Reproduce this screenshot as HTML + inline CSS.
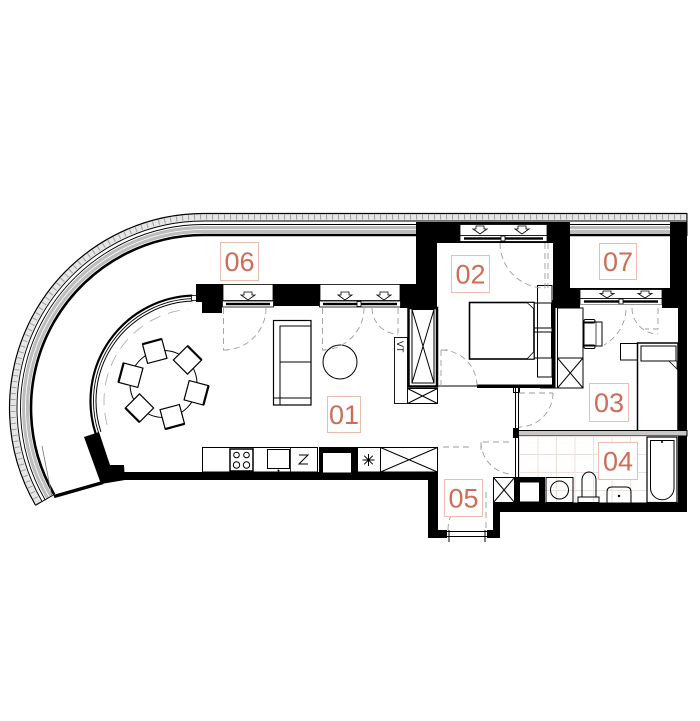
<!DOCTYPE html>
<html><head><meta charset="utf-8"><style>
html,body{margin:0;padding:0;background:#fff;}
svg{display:block}
.lbl{font-family:"Liberation Sans",sans-serif;font-size:27px;fill:#cf6c56;text-anchor:middle}
.box{fill:#fff;stroke:#ecbcae;stroke-width:1}
.d{fill:none;stroke:#9c9c9c;stroke-width:0.9;stroke-dasharray:6 4}
.t{fill:none;stroke:#000;stroke-width:1}
</style></head><body>
<svg width="700" height="721" viewBox="0 0 700 721" xmlns="http://www.w3.org/2000/svg">
<defs>
<pattern id="tile" x="519" y="436" width="18.5" height="18" patternUnits="userSpaceOnUse">
<path d="M0 0.5 H18.5 M0.5 0 V18" stroke="#ecdfdc" stroke-width="1" fill="none"/>
</pattern>
</defs>
<rect width="700" height="721" fill="#fff"/>

<!-- balcony rail -->
<g fill="none">
<path d="M38.59 503.5 A191 191 0 0 1 204 217 H687" stroke="#e6e6e6" stroke-width="7"/>
<path d="M38.59 503.5 A191 191 0 0 1 204 217 H687" stroke="#a0a0a0" stroke-width="5" stroke-dasharray="1 5"/>
<path d="M35.56 505.25 A194.5 194.5 0 0 1 204 213.5 H687" stroke="#000" stroke-width="1.2"/>
<path d="M42.06 501.5 A187 187 0 0 1 204 221 H687" stroke="#000" stroke-width="0.9"/>
<path d="M45.09 499.75 A183.5 183.5 0 0 1 204 224.5 H687" stroke="#000" stroke-width="0.9"/>
<path d="M49.42 497.25 A178.5 178.5 0 0 1 204 229.5 H687" stroke="#bdbdbd" stroke-width="7"/>
<path d="M49.42 497.25 A178.5 178.5 0 0 1 204 229.5 H687" stroke="#fff" stroke-width="0.8"/>
<path d="M54.18 494.5 A173 173 0 0 1 204 235 H687" stroke="#000" stroke-width="2.6"/>
<line x1="35.5" y1="505.3" x2="54.2" y2="494.5" stroke="#000" stroke-width="1"/>
<line x1="687" y1="213" x2="687" y2="236" stroke="#000" stroke-width="1"/>
<line x1="42" y1="446" x2="52" y2="497" stroke="#777" stroke-width="0.8"/>
</g>
<line x1="54" y1="496.5" x2="103" y2="482.5" stroke="#000" stroke-width="3.5"/>

<!-- curved glass wall -->
<path d="M95.66 433.6 A105.5 105.5 0 0 1 192.32 295.56" stroke="#000" stroke-width="2.2" fill="none"/>
<path d="M98.51 432.67 A102.5 102.5 0 0 1 192.42 298.56" stroke="#000" stroke-width="0.9" fill="none"/>
<path d="M100.89 431.9 A100 100 0 0 1 192.51 301.06" stroke="#000" stroke-width="1" fill="none"/>
<path d="M107.14 424.81 A92 92 0 0 1 187.98 309.35" stroke="#b0b0b0" stroke-width="0.9" stroke-dasharray="12 8" fill="none"/>
<rect x="191.5" y="295.5" width="5" height="5" fill="#fff" stroke="#000" stroke-width="0.8"/>

<!-- left slanted pillar -->
<polygon points="84,437 99,432 110,465 124,465 125,480 101,484" fill="#000"/>

<!-- walls (black) -->
<g fill="#000">
<rect x="196" y="284" width="27" height="18"/>
<rect x="202" y="302" width="20" height="11"/>
<rect x="273" y="284" width="47" height="22"/>
<rect x="400" y="284" width="37" height="24"/>
<rect x="416" y="222" width="21" height="86"/>
<rect x="416" y="222" width="154" height="21"/>
<rect x="553" y="222" width="17" height="86"/>
<rect x="553" y="288" width="134" height="20"/>
<rect x="670" y="222" width="17" height="86"/>
<rect x="678" y="308" width="9" height="204"/>
<rect x="122" y="472" width="316" height="8"/>
<rect x="428" y="472" width="10" height="66"/>
<rect x="428" y="530" width="19" height="8"/>
<rect x="487" y="530" width="13" height="8"/>
<rect x="493" y="502" width="7" height="36"/>
<rect x="493" y="502.5" width="194" height="9.5"/>
<rect x="552" y="300" width="3.5" height="88"/>
<rect x="477" y="384.5" width="78" height="3.5"/>
</g>

<!-- windows -->
<g stroke="#000" stroke-width="0.8">
<!-- window 1 -->
<rect x="223" y="284.5" width="50" height="16" fill="#fff"/>
<rect x="222.5" y="301" width="51" height="6" fill="#fff"/>
<rect x="226" y="302.8" width="44" height="2.4" fill="#000" stroke="none"/>
<polygon points="244,292 252,292 252,295 255,295 248,300 241,295 244,295" fill="#fff"/>
<!-- window 2 -->
<rect x="320" y="284.5" width="80" height="16" fill="#fff"/>
<rect x="319.5" y="301" width="81" height="6" fill="#fff"/>
<rect x="323" y="302.8" width="74" height="2.4" fill="#000" stroke="none"/>
<rect x="357" y="301.5" width="4" height="5" fill="#fff"/>
<polygon points="341,292 349,292 349,295 352,295 345,300 338,295 341,295" fill="#fff"/>
<polygon points="380,292 388,292 388,295 391,295 384,300 377,295 380,295" fill="#fff"/>
<!-- window 02 -->
<rect x="460" y="224.5" width="87" height="11" fill="#fff"/>
<rect x="460" y="235.5" width="87" height="6" fill="#fff"/>
<rect x="464" y="237.3" width="79" height="2.4" fill="#000" stroke="none"/>
<rect x="501" y="236" width="4" height="5" fill="#fff"/>
<polygon points="476,226 484,226 484,229 487,229 480,234 473,229 476,229" fill="#fff"/>
<polygon points="518,226 526,226 526,229 529,229 522,234 515,229 518,229" fill="#fff"/>
<!-- window 07 -->
<rect x="580" y="289.5" width="82" height="9" fill="#fff"/>
<rect x="580" y="298.5" width="82" height="6" fill="#fff"/>
<rect x="584" y="300.3" width="74" height="2.4" fill="#000" stroke="none"/>
<rect x="619" y="299" width="4" height="5" fill="#fff"/>
<polygon points="603,291 611,291 611,293.5 614,293.5 607,298 600,293.5 603,293.5" fill="#fff"/>
<polygon points="641,291 649,291 649,293.5 652,293.5 645,298 638,293.5 641,293.5" fill="#fff"/>
</g>
<rect x="580" y="304.5" width="82" height="3.5" fill="#fff"/>

<!-- room 02 wardrobe & boxes -->
<rect x="408.5" y="308" width="28.5" height="78.5" fill="#fff" stroke="#000" stroke-width="2.5"/>
<rect x="412" y="309.5" width="22" height="73.5" class="t" stroke-width="0.8"/>
<path d="M412 309.5 L434 383 M434 309.5 L412 383" class="t" stroke-width="0.7"/>
<rect x="407.5" y="388.5" width="30" height="15" class="t" fill="#fff"/>
<path d="M407.5 388.5 L437.5 403.5 M437.5 388.5 L407.5 403.5" class="t" stroke-width="0.7"/>
<rect x="394.5" y="337.5" width="13" height="66" fill="#fff" stroke="#000" stroke-width="0.9"/>
<text x="397" y="341" font-family="Liberation Sans, sans-serif" font-size="9" transform="rotate(90 397 341)">VT</text>
<line x1="437" y1="386" x2="477" y2="386" stroke="#000" stroke-width="1"/>

<!-- bed 02 -->
<rect x="537.5" y="285.5" width="14.5" height="91.5" class="t" fill="#fff" stroke-width="0.8"/>
<rect x="469.5" y="302.5" width="64.5" height="56.5" fill="#fff" stroke="#000" stroke-width="1.6"/>
<rect x="534" y="303" width="17.5" height="25" class="t" fill="#fff" stroke-width="0.8"/>
<rect x="534" y="332" width="17.5" height="26" class="t" fill="#fff" stroke-width="0.8"/>
<polygon points="527,302.5 534,302.5 534,309" fill="#fff" stroke="#000" stroke-width="0.8"/>
<polygon points="527,359 534,359 534,351.5" fill="#fff" stroke="#000" stroke-width="0.8"/>

<!-- room 03 -->
<rect x="557.5" y="308" width="25.5" height="80" class="t" fill="#fff" stroke-width="0.9"/>
<line x1="557.5" y1="358" x2="583" y2="358" stroke="#000" stroke-width="0.9"/>
<path d="M557.5 358 L583 388 M583 358 L557.5 388" class="t" stroke-width="0.7"/>
<line x1="540" y1="388" x2="583" y2="388" stroke="#000" stroke-width="1"/>
<rect x="584" y="322" width="18" height="24" class="t" fill="#fff" stroke-width="0.9"/>
<line x1="596" y1="322" x2="596" y2="346" stroke="#000" stroke-width="0.7"/>
<rect x="584" y="319.5" width="11" height="3.5" rx="1.5" class="t" fill="#fff" stroke-width="0.8"/>
<rect x="584" y="345" width="11" height="3.5" rx="1.5" class="t" fill="#fff" stroke-width="0.8"/>
<rect x="620.5" y="343.5" width="17" height="16.5" class="t" fill="#fff"/>
<rect x="637.5" y="343" width="40.5" height="88" fill="#fff" stroke="#000" stroke-width="1.5"/>
<rect x="641" y="346" width="35" height="15" class="t" fill="#fff" stroke-width="0.8"/>
<polygon points="669,361 677,361 677,369" fill="#fff" stroke="#000" stroke-width="0.8"/>

<!-- partitions -->
<line x1="515.5" y1="388" x2="515.5" y2="477" stroke="#000" stroke-width="1"/>
<line x1="518.5" y1="388" x2="518.5" y2="477" stroke="#000" stroke-width="1"/>
<rect x="513.5" y="386.5" width="6" height="6" class="t" fill="#fff" stroke-width="0.8"/>
<rect x="515" y="430.5" width="172" height="5.5" fill="#c8c8c8" stroke="#000" stroke-width="1"/>
<rect x="513" y="428" width="6" height="10" fill="#000"/>

<!-- room 04 -->
<rect x="519" y="436" width="159" height="66.5" fill="url(#tile)"/>
<rect x="515" y="477" width="30" height="26" fill="#000"/>
<rect x="520" y="482.5" width="19" height="19" fill="#fff"/>
<rect x="493.5" y="477.5" width="21" height="25" class="t" fill="#fff"/>
<path d="M493.5 477.5 L514.5 502.5 M514.5 477.5 L493.5 502.5" class="t" stroke-width="0.7"/>
<rect x="546" y="477.5" width="27" height="25" class="t" fill="#fff"/>
<circle cx="559.5" cy="490" r="9" class="t"/>
<path d="M582 497 V480 A7 8 0 0 1 596 480 V497" class="t" fill="#fff"/>
<rect x="578" y="497" width="21" height="5.5" class="t" fill="#fff"/>
<path d="M607 502.5 V492 Q607 487 612 487 H626 Q631 487 631 492 V502.5" class="t" fill="#fff"/>
<circle cx="619" cy="496" r="1.2" fill="#000"/>
<rect x="647" y="437" width="30" height="65.5" fill="#fff" stroke="#000" stroke-width="1.2"/>
<path d="M650.5 440.5 H674 V488 A11.75 11.75 0 0 1 650.5 488 Z" class="t" stroke-width="0.9"/>
<circle cx="662" cy="442" r="1" fill="#000"/>

<!-- room 05 door -->
<g class="t" stroke-width="0.8">
<line x1="447" y1="531.5" x2="487" y2="531.5"/>
<line x1="447" y1="536.5" x2="487" y2="536.5"/>
<line x1="449" y1="530" x2="449" y2="542"/>
<line x1="485" y1="530" x2="485" y2="542"/>
</g>

<!-- kitchen -->
<rect x="202.5" y="447.5" width="115" height="24.5" class="t" fill="#fff"/>
<line x1="253" y1="447.5" x2="253" y2="472" stroke="#000" stroke-width="0.8"/>
<line x1="290.5" y1="447.5" x2="290.5" y2="472" stroke="#000" stroke-width="0.8"/>
<rect x="230" y="449" width="23" height="22" fill="#fff" stroke="#000" stroke-width="1.5"/>
<circle cx="236.5" cy="455" r="2.8" class="t" stroke-width="0.9"/>
<circle cx="246.5" cy="455" r="2.8" class="t" stroke-width="0.9"/>
<circle cx="236.5" cy="465" r="3.2" class="t" stroke-width="0.9"/>
<circle cx="246.5" cy="465" r="3.2" class="t" stroke-width="0.9"/>
<rect x="267.5" y="449.5" width="22" height="19" class="t"/>
<circle cx="278.5" cy="470.5" r="1" fill="#000"/>
<path d="M299 455 H308 L299 464 H308" class="t" stroke-width="0.9"/>
<rect x="319" y="447" width="38" height="33" fill="#000"/>
<rect x="323" y="453" width="28" height="19.5" fill="#fff"/>
<rect x="357.5" y="447.5" width="23" height="24.5" class="t" fill="#fff"/>
<path d="M368.5 454 V466 M362.5 460 H374.5 M364.2 455.7 L372.8 464.3 M372.8 455.7 L364.2 464.3" class="t" stroke-width="0.9"/>
<rect x="380.5" y="447.5" width="57" height="24.5" class="t" fill="#fff"/>
<path d="M380.5 447.5 L437.5 472 M437.5 447.5 L380.5 472" class="t" stroke-width="0.7"/>

<!-- sofa & coffee table -->
<rect x="273.5" y="320.5" width="37.5" height="84.5" fill="#fff" stroke="#000" stroke-width="1.2"/>
<path d="M280 405 V326 H311 M280 362 H311 M273.5 398 H311" class="t" stroke-width="0.9"/>
<circle cx="340" cy="362" r="17" class="t" fill="#fff"/>

<!-- dining -->
<circle cx="163.5" cy="384" r="33.5" class="t" fill="#fff"/>
<g fill="#fff" stroke="#000" stroke-width="1.2">
<g transform="translate(154.7 351.2) rotate(-105)"><rect x="-10" y="-10" width="20" height="20"/><line x1="10" y1="-10" x2="10" y2="10" stroke-width="2.2"/></g>
<g transform="translate(187.5 360) rotate(-45)"><rect x="-10" y="-10" width="20" height="20"/><line x1="10" y1="-10" x2="10" y2="10" stroke-width="2.2"/></g>
<g transform="translate(196.3 392.8) rotate(15)"><rect x="-10" y="-10" width="20" height="20"/><line x1="10" y1="-10" x2="10" y2="10" stroke-width="2.2"/></g>
<g transform="translate(172.3 416.8) rotate(75)"><rect x="-10" y="-10" width="20" height="20"/><line x1="10" y1="-10" x2="10" y2="10" stroke-width="2.2"/></g>
<g transform="translate(139.5 408) rotate(135)"><rect x="-10" y="-10" width="20" height="20"/><line x1="10" y1="-10" x2="10" y2="10" stroke-width="2.2"/></g>
<g transform="translate(130.7 375.2) rotate(195)"><rect x="-10" y="-10" width="20" height="20"/><line x1="10" y1="-10" x2="10" y2="10" stroke-width="2.2"/></g>
</g>

<!-- door swings -->
<path class="d" d="M223.5 308 V350 H231"/>
<path class="d" d="M224 350 A42 42 0 0 0 266 308"/>
<path class="d" d="M322.5 308 V350 H330"/>
<path class="d" d="M322 350 A42 42 0 0 0 364 308"/>
<path class="d" d="M398 308 V333"/>
<path class="d" d="M372 308 A26 26 0 0 0 398 334"/>
<path class="d" d="M545 243 V288 M548 243 V288"/>
<path class="d" d="M500 243 A45 45 0 0 0 545 288"/>
<path class="d" d="M626 310 A43 43 0 0 1 604 345"/>
<path class="d" d="M658 308 V329 H645"/>
<path class="d" d="M632 308 A26 26 0 0 0 658 334"/>
<path class="d" d="M519 393 H553"/>
<path class="d" d="M553 393 A34 34 0 0 1 519 427"/>
<path class="d" d="M441 386 V350 H448"/>
<path class="d" d="M441 350 A36 36 0 0 1 477 386"/>
<path class="d" d="M481 450 V442 H513"/>
<path class="d" d="M481 442 A32 32 0 0 0 513 474"/>
<path class="d" d="M443 447 H470"/>
<path class="d" d="M486 492 V530"/>
<path class="d" d="M448 530 A38 38 0 0 1 486 492"/>

<!-- labels -->
<rect class="box" x="220.5" y="242.5" width="38" height="38"/>
<text class="lbl" x="239.5" y="271">06</text>
<rect class="box" x="451.5" y="255.5" width="38" height="37"/>
<text class="lbl" x="470.5" y="283.5">02</text>
<rect class="box" x="599.5" y="243.5" width="37" height="36"/>
<text class="lbl" x="618" y="271">07</text>
<rect class="box" x="327.5" y="396.5" width="33" height="36"/>
<text class="lbl" x="344" y="424">01</text>
<rect class="box" x="589.5" y="383.5" width="39" height="38"/>
<text class="lbl" x="609" y="412">03</text>
<rect class="box" x="598.5" y="442.5" width="39" height="37"/>
<text class="lbl" x="618" y="470.5">04</text>
<rect class="box" x="444.5" y="479.5" width="38" height="37"/>
<text class="lbl" x="463.5" y="507.5">05</text>
</svg>
</body></html>
